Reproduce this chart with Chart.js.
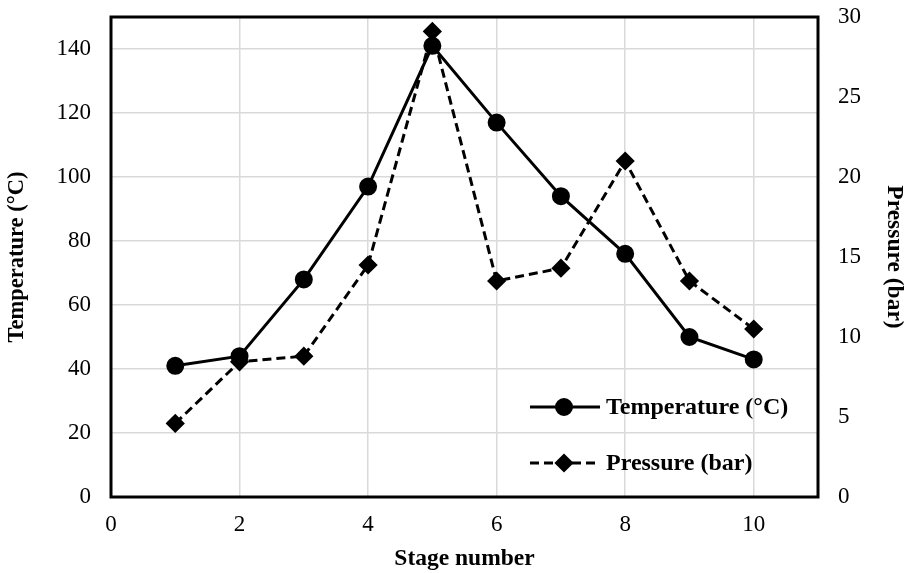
<!DOCTYPE html>
<html>
<head>
<meta charset="utf-8">
<script src="https://cdn.jsdelivr.net/npm/chart.js@4/dist/chart.umd.min.js"></script>
<style>
  html, body { margin: 0; padding: 0; background: #ffffff; }
  #wrap { width: 906px; height: 573px; }
</style>
</head>
<body>
<div id="wrap"><canvas id="c" width="906" height="573"></canvas></div>
<script>
// ---- data ----
const stages = [1, 2, 3, 4, 5, 6, 7, 8, 9, 10];
const temperature = [41, 44, 68, 97, 141, 117, 94, 76, 50, 43];
const pressure = [4.6, 8.45, 8.8, 14.5, 29.1, 13.5, 14.3, 21.0, 13.5, 10.5];
const tempLabel = 'Temperature (°C)';
const presLabel = 'Pressure (bar)';
const xTitle = 'Stage number';
const yLeftTitle = 'Temperature (°C)';
const yRightTitle = 'Pressure (bar)';

const FONT = "'Liberation Serif', 'Times New Roman', serif";

const boxPlugin = {
  id: 'box',
  beforeDatasetsDraw(chart) {
    const {ctx, chartArea: a} = chart;
    ctx.save();
    ctx.strokeStyle = '#000';
    ctx.lineWidth = 3;
    ctx.strokeRect(a.left, a.top, a.right - a.left, a.bottom - a.top);
    ctx.restore();
  }
};

const legendPlugin = {
  id: 'inLegend',
  afterDraw(chart) {
    const {ctx} = chart;
    const rows = [407, 463];
    chart.data.datasets.forEach((ds, i) => {
      const y = rows[i];
      ctx.save();
      ctx.strokeStyle = ds.borderColor;
      ctx.lineWidth = ds.borderWidth;
      ctx.setLineDash(ds.borderDash || []);
      ctx.beginPath();
      ctx.moveTo(530, y);
      ctx.lineTo(600, y);
      ctx.stroke();
      ctx.setLineDash([]);
      Chart.helpers.drawPoint(ctx, {pointStyle: ds.pointStyle, radius: ds.pointRadius, borderWidth: 1, rotation: 0}, 564, y);
      ctx.fillStyle = '#000';
      ctx.strokeStyle = '#000';
      ctx.fill();
      ctx.font = 'bold 24px ' + FONT;
      ctx.textBaseline = 'middle';
      ctx.textAlign = 'left';
      ctx.fillText(ds.label, 606, y + 1);
      ctx.restore();
    });
  }
};

function fixVertical(width) {
  return function (s) {
    s.width = width;
    s.paddingTop = 0;
    s.paddingBottom = 0;
  };
}

new Chart(document.getElementById('c'), {
  type: 'line',
  data: {
    datasets: [
      {
        label: tempLabel,
        data: stages.map((s, i) => ({x: s, y: temperature[i]})),
        yAxisID: 'y',
        borderColor: '#000',
        backgroundColor: '#000',
        borderWidth: 3,
        pointStyle: 'circle',
        pointRadius: 7.5,
        pointBackgroundColor: '#000',
        pointBorderColor: '#000',
        tension: 0
      },
      {
        label: presLabel,
        data: stages.map((s, i) => ({x: s, y: pressure[i]})),
        yAxisID: 'y2',
        borderColor: '#000',
        backgroundColor: '#000',
        borderWidth: 3,
        borderDash: [9, 5],
        pointStyle: 'rectRot',
        pointRadius: 7.5,
        pointBackgroundColor: '#000',
        pointBorderColor: '#000',
        tension: 0
      }
    ]
  },
  options: {
    responsive: false,
    devicePixelRatio: 1,
    animation: false,
    layout: {padding: {top: 17, left: 0, right: 0, bottom: 0}},
    plugins: {legend: {display: false}, tooltip: {enabled: false}},
    scales: {
      x: {
        type: 'linear',
        min: 0, max: 11,
        afterBuildTicks(s) { s.ticks = s.ticks.filter(t => t.value % 2 === 0); },
        afterFit(s) { s.height = 76; s.paddingLeft = 0; s.paddingRight = 0; },
        ticks: {stepSize: 2, includeBounds: false, color: '#000', font: {family: FONT, size: 23}, padding: 14},
        grid: {color: '#d9d9d9', lineWidth: 1.5, drawTicks: false},
        border: {display: false},
        title: {display: true, text: xTitle, color: '#000', font: {family: FONT, size: 23.5, weight: 'bold', lineHeight: 1}, padding: {top: 0, bottom: 2}}
      },
      y: {
        position: 'left',
        min: 0, max: 150,
        afterBuildTicks(s) { s.ticks = s.ticks.filter(t => t.value % 20 === 0); },
        afterFit: fixVertical(111),
        ticks: {stepSize: 20, includeBounds: false, color: '#000', font: {family: FONT, size: 23}, padding: 20},
        grid: {color: '#d9d9d9', lineWidth: 1.5, drawTicks: false},
        border: {display: false},
        title: {display: true, text: yLeftTitle, color: '#000', font: {family: FONT, size: 22.5, weight: 'bold', lineHeight: 1}, padding: {top: 6, bottom: 0}}
      },
      y2: {
        position: 'right',
        min: 0, max: 30,
        afterFit: fixVertical(88),
        ticks: {stepSize: 5, color: '#000', font: {family: FONT, size: 23}, padding: 20},
        grid: {display: false, drawTicks: false},
        border: {display: false},
        title: {display: true, text: yRightTitle, color: '#000', font: {family: FONT, size: 23.5, weight: 'bold', lineHeight: 1}, padding: {top: 0, bottom: 0}}
      }
    }
  },
  plugins: [boxPlugin, legendPlugin]
});
</script>
</body>
</html>
